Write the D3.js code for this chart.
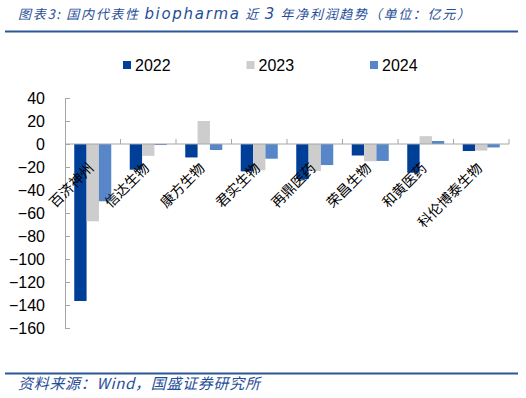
<!DOCTYPE html>
<html>
<head>
<meta charset="utf-8">
<script src="https://cdn.jsdelivr.net/npm/d3@7"></script>
<style>
  body { margin: 0; background: #fff; }
  svg { display: block; }
</style>
</head>
<body>
<div id="chart"></div>
<script>
// data (亿元)
const companies = ["百济神州", "信达生物", "康方生物", "君实生物", "再鼎医药", "荣昌生物", "和黄医药", "科伦博泰生物"];
const years = ["2022", "2023", "2024"];
const v2022 = [-136.5, -22.3, -11.7, -23.8, -30.5, -10.0, -25.0, -6.1];
const v2023 = [-67.2, -10.3, 20.0, -22.8, -23.5, -15.0, 6.8, -5.7];
const v2024 = [-49.8, -0.9, -5.2, -12.8, -18.3, -14.7, 2.6, -3.0];
const yTicks = [40, 20, 0, -20, -40, -60, -80, -100, -120, -140, -160];

const colors = { "2022": "#003f98", "2023": "#cdcdcd", "2024": "#5787c8" };
const blue = "#1f4e99";

const width = 526;
const height = 398;
const margin = { top: 98, right: 17, bottom: 70, left: 65 };

const svg = d3.select("#chart").append("svg")
  .attr("width", width)
  .attr("height", height);

// ===== TITLE =====
const title = svg.append("text")
  .attr("x", 18).attr("y", 19)
  .attr("textLength", 452)
  .attr("lengthAdjust", "spacing")
  .attr("fill", blue)
  .style("font-family", "'Noto Sans CJK SC', sans-serif")
  .style("font-size", "13px")
  .style("font-style", "italic");
title.append("tspan").text("图表3:  国内代表性 ");
title.append("tspan")
  .style("font-family", "'DejaVu Sans', sans-serif")
  .style("font-size", "15px")
  .text("biopharma");
title.append("tspan").text(" 近 ");
title.append("tspan")
  .style("font-family", "'DejaVu Sans', sans-serif")
  .style("font-size", "15px")
  .text("3");
title.append("tspan").text(" 年净利润趋势（单位：亿元）");

svg.append("line")
  .attr("x1", 5).attr("x2", 518)
  .attr("y1", 31.5).attr("y2", 31.5)
  .attr("stroke", "#2b5797").attr("stroke-width", 2);

// ===== DATA TABLE =====
const series = { "2022": v2022, "2023": v2023, "2024": v2024 };
const rows = companies.map((c, i) => ({
  company: c,
  values: years.map((y) => ({ year: y, value: series[y][i] })),
}));

// ===== SCALES =====
const x0 = d3.scaleBand()
  .domain(companies)
  .range([margin.left, width - margin.right])
  .padding(0);

const x1 = d3.scaleBand()
  .domain(years)
  .range([0, x0.bandwidth()])
  .paddingInner(0)
  .paddingOuter(0.75);

const y = d3.scaleLinear()
  .domain([-160, 40])
  .range([height - margin.bottom, margin.top]);

// ===== BARS =====
const groups = svg.selectAll(".group")
  .data(rows)
  .enter()
  .append("g")
  .attr("class", "group")
  .attr("transform", (d) => `translate(${x0(d.company)},0)`);

groups.selectAll("rect")
  .data((d) => d.values)
  .enter()
  .append("rect")
  .attr("x", (d) => x1(d.year))
  .attr("width", x1.bandwidth())
  .attr("y", (d) => y(Math.max(0, d.value)))
  .attr("height", (d) => Math.abs(y(d.value) - y(0)))
  .attr("fill", (d) => colors[d.year]);

// ===== Y AXIS =====
const yAxis = svg.append("g")
  .attr("transform", `translate(${margin.left},0)`)
  .call(d3.axisLeft(y).tickValues(yTicks).tickSize(-5).tickPadding(20));

yAxis.select(".domain").attr("stroke", "#a6a6a6");
yAxis.selectAll(".tick line").attr("stroke", "#a6a6a6");
yAxis.selectAll("text")
  .attr("fill", "#000")
  .style("font-family", "'Liberation Sans', Arial, sans-serif")
  .style("font-size", "16px");

// ===== X AXIS (zero line) =====
svg.append("line")
  .attr("x1", margin.left).attr("x2", width - margin.right)
  .attr("y1", y(0)).attr("y2", y(0))
  .attr("stroke", "#a6a6a6");

svg.selectAll(".xtick")
  .data(companies)
  .enter()
  .append("line")
  .attr("class", "xtick")
  .attr("x1", (d) => x0(d) + x0.bandwidth())
  .attr("x2", (d) => x0(d) + x0.bandwidth())
  .attr("y1", y(0)).attr("y2", y(0) - 5)
  .attr("stroke", "#a6a6a6");

svg.selectAll(".xlabel")
  .data(companies)
  .enter()
  .append("text")
  .attr("class", "xlabel")
  .attr("transform", (d) => `translate(${x0(d) + x0.bandwidth() / 2 + 2},${y(0) + 25}) rotate(-45)`)
  .attr("text-anchor", "end")
  .attr("fill", "#000")
  .style("font-family", "'Noto Sans CJK SC', sans-serif")
  .style("font-size", "14px")
  .text((d) => d);

// ===== LEGEND =====
const legend = svg.selectAll(".legend")
  .data(years)
  .enter()
  .append("g")
  .attr("class", "legend")
  .attr("transform", (d, i) => `translate(${123 + i * 123.5},61)`);

legend.append("rect")
  .attr("width", 8).attr("height", 8)
  .attr("fill", (d) => colors[d]);

legend.append("text")
  .attr("x", 12).attr("y", 9.5)
  .attr("fill", "#000")
  .style("font-family", "'Liberation Sans', Arial, sans-serif")
  .style("font-size", "16px")
  .text((d) => d);

// ===== FOOTER =====
svg.append("line")
  .attr("x1", 5).attr("x2", 518)
  .attr("y1", 373.5).attr("y2", 373.5)
  .attr("stroke", "#2b5797").attr("stroke-width", 2);

svg.append("text")
  .attr("x", 18).attr("y", 389)
  .attr("textLength", 242)
  .attr("lengthAdjust", "spacing")
  .attr("fill", blue)
  .style("font-family", "'Noto Sans CJK SC', sans-serif")
  .style("font-size", "15px")
  .style("font-style", "italic")
  .text("资料来源：Wind，国盛证券研究所");
</script>
</body>
</html>
